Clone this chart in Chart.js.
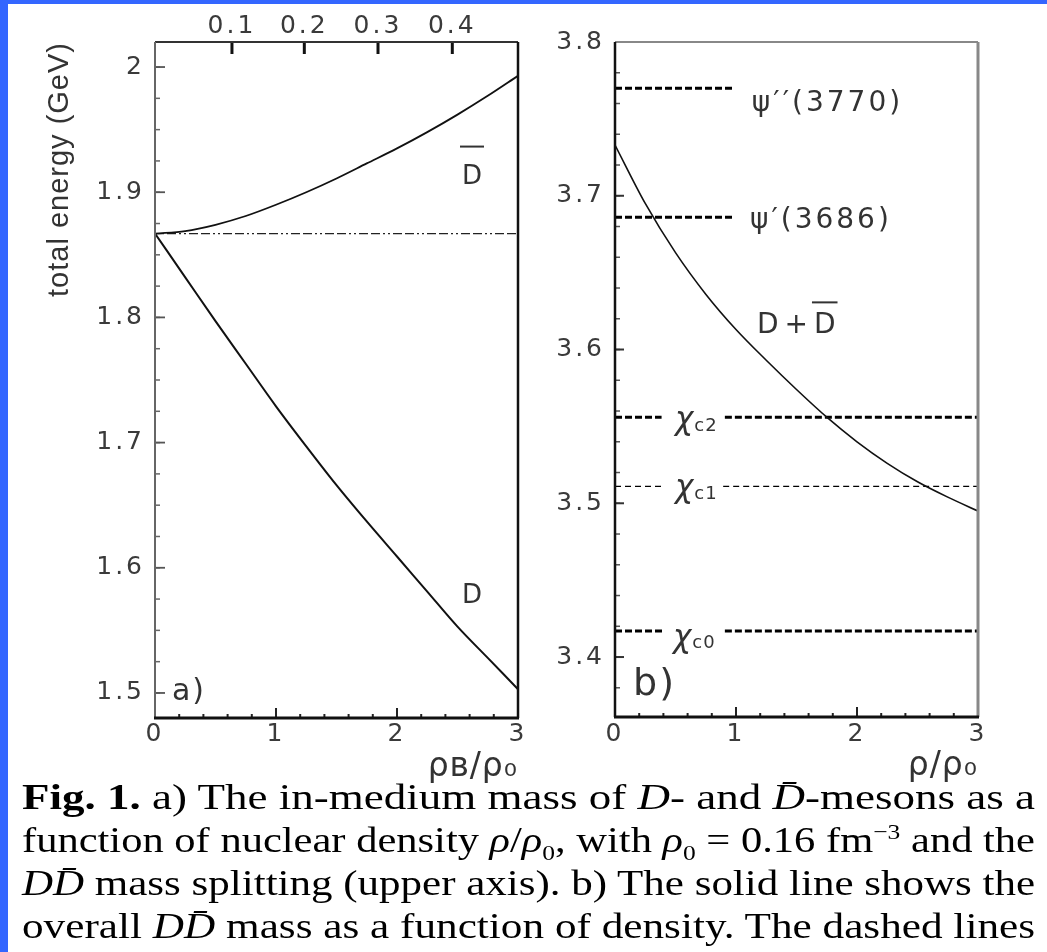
<!DOCTYPE html>
<html><head><meta charset="utf-8">
<script src="https://cdn.jsdelivr.net/npm/chart.js@4/dist/chart.umd.min.js"></script>
<style>
html,body{margin:0;padding:0;background:#3366ff;width:1047px;height:952px;overflow:hidden;}
#sheet{position:absolute;left:8px;top:4px;width:1039px;height:948px;background:#fff;}
#wa{position:absolute;left:8px;top:4px;width:522px;height:790px;}
#wb{position:absolute;left:530px;top:4px;width:517px;height:790px;}
#cap{position:absolute;left:22px;top:776px;width:1013px;font-family:"Liberation Serif","Times New Roman",serif;font-size:36px;color:#000;z-index:2;}
#cap .ln{height:43px;line-height:43px;white-space:nowrap;}
#cap .ln span{display:inline-block;transform-origin:0 50%;}
#cap sub,#cap sup{font-size:60%;line-height:0;}
</style></head>
<body>
<div id="sheet"></div>
<div id="wa"><canvas id="ca" width="522" height="790"></canvas></div>
<div id="wb"><canvas id="cb" width="517" height="790"></canvas></div>
<div id="cap">
<div class="ln"><span><b>Fig. 1.</b> a) The in-medium mass of <i>D</i>- and <i>D̄</i>-mesons as a</span></div>
<div class="ln"><span>function of nuclear density <i>ρ</i>/<i>ρ</i><sub>0</sub>, with <i>ρ</i><sub>0</sub> = 0.16 fm<sup>−3</sup> and the</span></div>
<div class="ln"><span><i>DD̄</i> mass splitting (upper axis). b) The solid line shows the</span></div>
<div class="ln"><span>overall <i>DD̄</i> mass as a function of density. The dashed lines</span></div>
</div>
<script>
// ---------------- data ----------------
const rho        = [0, 0.25, 0.5, 0.75, 1.0, 1.25, 1.5, 1.75, 2.0, 2.25, 2.5, 2.75, 3.0];
const massD      = [1.867, 1.832, 1.797, 1.763, 1.729, 1.697, 1.666, 1.637, 1.609, 1.581, 1.553, 1.528, 1.503];
const massDbar   = [1.867, 1.869, 1.874, 1.881, 1.890, 1.900, 1.911, 1.923, 1.935, 1.948, 1.962, 1.977, 1.993];
const massDDbar  = [3.733, 3.695, 3.663, 3.636, 3.613, 3.593, 3.574, 3.556, 3.540, 3.526, 3.514, 3.504, 3.495];
const freeDMass  = 1.867;

// upper axis of panel a: D-Dbar mass splitting (GeV) and the density where it is reached
const splittingLabels = ['0.1', '0.2', '0.3', '0.4'];
const splittingAtRho  = [0.636, 1.234, 1.843, 2.457];

// charmonium states (GeV) and the density ranges covered by their dashed lines
const stateNames  = ['ψ′′(3770)', 'ψ′(3686)', 'χc2', 'χc1', 'χc0'];
const stateMass   = [3.770, 3.686, 3.556, 3.511, 3.417];
const stateRanges = [[[0, 0.99]], [[0, 0.99]], [[0, 0.385], [0.908, 3]], [[0, 0.385], [0.894, 3]], [[0, 0.395], [0.908, 3]]];
const stateThick  = [true, true, true, false, true];

// axis ticks
const xTicks   = [0, 1, 2, 3];
const xLabels  = ['0', '1', '2', '3'];
const aYTicks  = [1.5, 1.6, 1.7, 1.8, 1.9, 2.0];
const aYLabels = ['1.5', '1.6', '1.7', '1.8', '1.9', '2'];
const bYTicks  = [3.4, 3.5, 3.6, 3.7, 3.8];
const bYLabels = ['3.4', '3.5', '3.6', '3.7', '3.8'];

// ---------------- helpers ----------------
const pts = (xs, ys) => xs.map((x, i) => ({x: x, y: ys[i]}));
function stepList(min, max, step) {
  const out = [];
  for (let k = Math.ceil(min / step - 1e-6); k * step <= max + 1e-9; k++) out.push(+(k * step).toFixed(4));
  return out;
}
const TICKFONT = {family: 'DejaVu Sans', size: 25};
const TICKCOL = '#3a3a3a';

function fixedTicks(values) {
  return function (scale) { scale.ticks = values.map(v => ({value: v})); };
}

const spacingPlugin = {
  id: 'spacing',
  beforeDraw(chart) { chart.ctx.letterSpacing = '1px'; },
  beforeDatasetsDraw(chart) { chart.ctx.letterSpacing = '0px'; },
  afterDatasetsDraw(chart) { chart.ctx.letterSpacing = '3px'; },
  afterDraw(chart, args, opts) {
    const ctx = chart.ctx;
    ctx.letterSpacing = '0px';
    const A = chart.chartArea;
    ctx.save();
    // tick marks (inward)
    (opts.ticks || []).forEach(t => {
      const sc = chart.scales[t.axis];
      ctx.strokeStyle = t.color; ctx.lineWidth = t.width; ctx.lineCap = 'butt';
      t.values.forEach(v => {
        const p = sc.getPixelForValue(v);
        ctx.beginPath();
        if (t.side === 'left') { ctx.moveTo(A.left, p); ctx.lineTo(A.left + t.len, p); }
        else if (t.side === 'bottom') { ctx.moveTo(p, A.bottom); ctx.lineTo(p, A.bottom - t.len); }
        else if (t.side === 'top') { ctx.moveTo(p, A.top); ctx.lineTo(p, A.top + t.len); }
        ctx.stroke();
      });
    });
    // frame
    const f = opts.frame;
    const edge = (e, x1, y1, x2, y2) => { ctx.strokeStyle = e.c; ctx.lineWidth = e.w; ctx.beginPath(); ctx.moveTo(x1, y1); ctx.lineTo(x2, y2); ctx.stroke(); };
    edge(f.top, A.left, A.top, A.right, A.top);
    edge(f.right, A.right, A.top, A.right, A.bottom);
    edge(f.left, A.left, A.top, A.left, A.bottom);
    edge(f.bottom, A.left - 1, A.bottom, A.right + 1, A.bottom);
    // labels
    const xs = chart.scales.x, ys = chart.scales.y;
    (opts.labels || []).forEach(l => {
      const px = xs.getPixelForValue(l.x), py = ys.getPixelForValue(l.y);
      ctx.font = l.font; ctx.letterSpacing = (l.sp || 0) + 'px';
      ctx.fillStyle = l.color || '#333'; ctx.textBaseline = 'middle'; ctx.textAlign = 'left';
      ctx.fillText(l.text, px, py);
      const w = ctx.measureText(l.text).width;
      if (l.over !== undefined) {
        const w0 = ctx.measureText(l.text.slice(0, l.over)).width;
        ctx.strokeStyle = l.color || '#333'; ctx.lineWidth = 2;
        ctx.beginPath(); ctx.moveTo(px + w0 - 2, py - l.overDy); ctx.lineTo(px + w - (l.sp || 0) + 2, py - l.overDy); ctx.stroke();
      }
      if (l.sub) {
        ctx.font = l.subFont; ctx.letterSpacing = '1px';
        ctx.fillText(l.sub, px + w + 1, py + 5);
      }
    });
    ctx.restore();
  }
};

// ---------------- panel a ----------------
const aMinor = stepList(1.48, 2.02, 0.025);
const xMinor = stepList(0, 3, 0.2);

new Chart(document.getElementById('ca'), {
  type: 'line',
  data: {
    datasets: [
      {data: pts(rho, massD), borderColor: '#111', borderWidth: 2, pointRadius: 0, cubicInterpolationMode: 'monotone', fill: false},
      {data: pts(rho, massDbar), borderColor: '#111', borderWidth: 1.8, pointRadius: 0, cubicInterpolationMode: 'monotone', fill: false},
      {data: pts([0, 3], [freeDMass, freeDMass]), borderColor: '#222', borderWidth: 1.3, pointRadius: 0,
       borderDash: [9, 3, 9, 3, 2, 3, 2, 3], fill: false}
    ]
  },
  options: {
    responsive: false, animation: false, devicePixelRatio: 1,
    layout: {padding: {left: 0, right: 12, top: 0, bottom: 0}},
    plugins: {
      legend: {display: false}, tooltip: {enabled: false},
      spacing: {
        frame: {left: {c: '#666', w: 2}, top: {c: '#333', w: 2}, right: {c: '#111', w: 2.5}, bottom: {c: '#111', w: 3}},
        ticks: [
          {axis: 'y', side: 'left', values: aMinor, len: 5, width: 1.5, color: '#666'},
          {axis: 'y', side: 'left', values: aYTicks, len: 10, width: 1.8, color: '#555'},
          {axis: 'x', side: 'bottom', values: xMinor, len: 4, width: 2, color: '#222'},
          {axis: 'x', side: 'bottom', values: xTicks, len: 10, width: 2, color: '#222'},
          {axis: 'x2', side: 'top', values: splittingAtRho, len: 12, width: 3, color: '#111'}
        ],
        labels: [
          {text: 'D', x: 2.537, y: 1.9117, font: '26px "DejaVu Sans"', over: 0, overDy: 31},
          {text: 'D', x: 2.537, y: 1.5775, font: '26px "DejaVu Sans"'},
          {text: 'a)', x: 0.14, y: 1.5008, font: '30px "DejaVu Sans"', sp: 2}
        ]
      }
    },
    scales: {
      x: {
        type: 'linear', position: 'bottom', min: 0, max: 3,
        afterBuildTicks: fixedTicks(xTicks),
        afterFit(s) { s.height = 76; },
        grid: {display: false, drawTicks: false}, border: {display: false},
        ticks: {autoSkip: false, maxRotation: 0, padding: 1, font: TICKFONT, color: TICKCOL, z: 1,
                callback: (v, i) => xLabels[i]},
        title: {display: true, text: 'ρʙ/ρ₀', align: 'end', color: '#333',
                font: {family: 'DejaVu Sans', size: 33, lineHeight: 1.2}, padding: {top: 0, bottom: 7}}
      },
      x2: {
        type: 'linear', position: 'top', min: 0, max: 3,
        afterBuildTicks: fixedTicks(splittingAtRho),
        afterFit(s) { s.height = 38; },
        grid: {display: false, drawTicks: false}, border: {display: false},
        ticks: {autoSkip: false, maxRotation: 0, padding: 1, font: TICKFONT, color: TICKCOL, z: 1,
                callback: (v, i) => splittingLabels[i]}
      },
      y: {
        type: 'linear', position: 'left', min: 1.48, max: 2.02,
        afterBuildTicks: fixedTicks(aYTicks),
        afterFit(s) { s.width = 147; },
        grid: {display: false, drawTicks: false}, border: {display: false},
        ticks: {autoSkip: false, padding: 10, font: TICKFONT, color: TICKCOL, z: 1,
                callback: (v, i) => aYLabels[i]},
        title: {display: true, text: 'total energy (GeV)', align: 'end', color: '#333',
                font: {family: 'Liberation Sans', size: 29, lineHeight: 1.2}, padding: {top: 35, bottom: 0}}
      }
    }
  },
  plugins: [spacingPlugin]
});

// ---------------- panel b ----------------
const bMinor = stepList(3.361, 3.8, 0.02);
const bDatasets = [
  {data: pts(rho, massDDbar), borderColor: '#111', borderWidth: 1.6, pointRadius: 0, cubicInterpolationMode: 'monotone', fill: false}
];
stateMass.forEach((m, i) => {
  stateRanges[i].forEach(r => {
    bDatasets.push({
      data: pts(r, [m, m]), borderColor: '#000', pointRadius: 0, fill: false,
      borderWidth: stateThick[i] ? 3 : 1.2, borderDash: stateThick[i] ? [7, 3] : [6, 4]
    });
  });
});

new Chart(document.getElementById('cb'), {
  type: 'line',
  data: {datasets: bDatasets},
  options: {
    responsive: false, animation: false, devicePixelRatio: 1,
    layout: {padding: {left: 0, right: 69, top: 38, bottom: 0}},
    plugins: {
      legend: {display: false}, tooltip: {enabled: false},
      spacing: {
        frame: {left: {c: '#111', w: 2.5}, top: {c: '#888', w: 2}, right: {c: '#888', w: 3}, bottom: {c: '#111', w: 3}},
        ticks: [
          {axis: 'y', side: 'left', values: bMinor, len: 5, width: 1.5, color: '#555'},
          {axis: 'y', side: 'left', values: bYTicks, len: 9, width: 2, color: '#333'},
          {axis: 'x', side: 'bottom', values: xMinor, len: 4, width: 2, color: '#222'},
          {axis: 'x', side: 'bottom', values: xTicks, len: 10, width: 2, color: '#222'}
        ],
        labels: [
          {text: stateNames[0], x: 1.131, y: 3.7601, font: '28px "DejaVu Sans"', sp: 3},
          {text: stateNames[1], x: 1.115, y: 3.684, font: '28px "DejaVu Sans"', sp: 3},
          {text: 'D+D', x: 1.173, y: 3.6157, font: '28px "DejaVu Sans"', sp: 6, over: 2, overDy: 23},
          {text: 'χ', x: 0.495, y: 3.5533, font: 'italic 31px "DejaVu Sans"', sub: 'c2', subFont: '18px "DejaVu Sans"'},
          {text: 'χ', x: 0.495, y: 3.5091, font: 'italic 31px "DejaVu Sans"', sub: 'c1', subFont: '18px "DejaVu Sans"'},
          {text: 'χ', x: 0.479, y: 3.412, font: 'italic 31px "DejaVu Sans"', sub: 'c0', subFont: '18px "DejaVu Sans"'},
          {text: 'b)', x: 0.149, y: 3.3818, font: '38px "DejaVu Sans"', sp: 2}
        ]
      }
    },
    scales: {
      x: {
        type: 'linear', position: 'bottom', min: 0, max: 3,
        afterBuildTicks: fixedTicks(xTicks),
        afterFit(s) { s.height = 77; },
        grid: {display: false, drawTicks: false}, border: {display: false},
        ticks: {autoSkip: false, maxRotation: 0, padding: 2, font: TICKFONT, color: TICKCOL, z: 1,
                callback: (v, i) => xLabels[i]},
        title: {display: true, text: 'ρ/ρ₀', align: 'end', color: '#333',
                font: {family: 'DejaVu Sans', size: 33, lineHeight: 1.2}, padding: {top: 0, bottom: 8}}
      },
      y: {
        type: 'linear', position: 'left', min: 3.361, max: 3.8,
        afterBuildTicks: fixedTicks(bYTicks),
        afterFit(s) { s.width = 85; },
        grid: {display: false, drawTicks: false}, border: {display: false},
        ticks: {autoSkip: false, padding: 10, font: TICKFONT, color: TICKCOL, z: 1,
                callback: (v, i) => bYLabels[i]}
      }
    }
  },
  plugins: [spacingPlugin]
});

// ---------------- caption: stretch every line to the full text width ----------------
function fitCaption() {
  document.querySelectorAll('#cap .ln span').forEach(s => {
    s.style.transform = 'none';
    const w = s.getBoundingClientRect().width;
    if (w > 0) s.style.transform = 'scaleX(' + (1013 / w) + ')';
  });
}
fitCaption();
if (document.fonts && document.fonts.ready) document.fonts.ready.then(fitCaption);
</script>
</body></html>
